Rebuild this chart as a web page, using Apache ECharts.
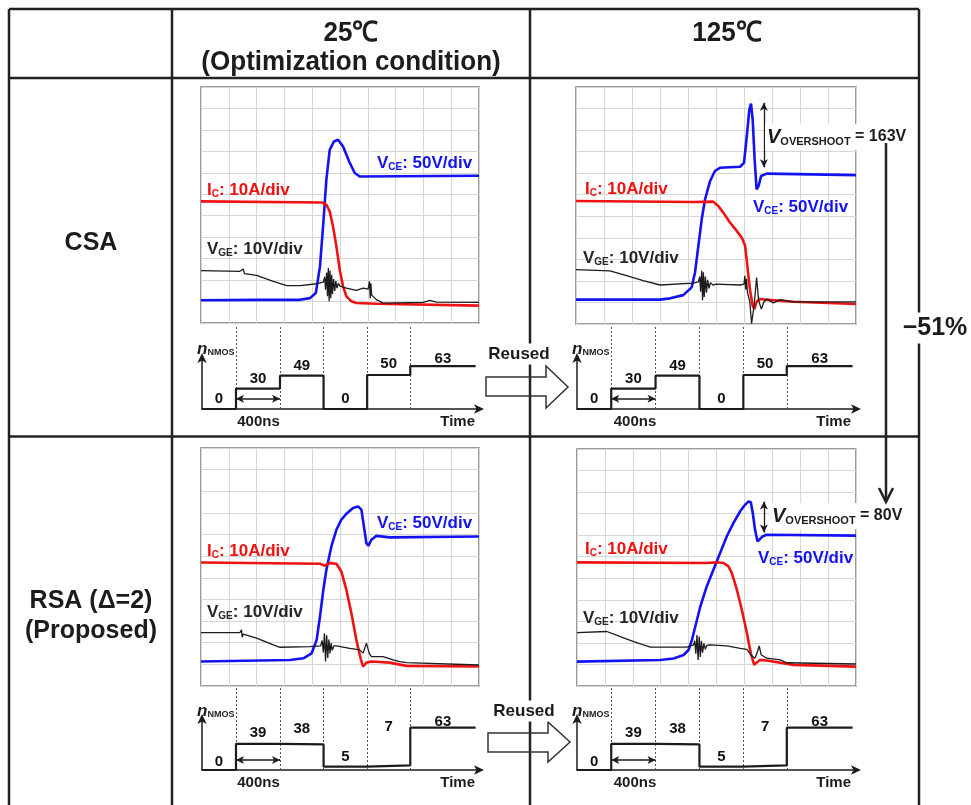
<!DOCTYPE html>
<html>
<head>
<meta charset="utf-8">
<script src="https://cdn.jsdelivr.net/npm/echarts@6.0.0/dist/echarts.min.js"></script>
<style>
  html, body { margin: 0; padding: 0; background: #fff; }
  #main { width: 971px; height: 805px; }
</style>
</head>
<body>
<div id="main"></div>
<script>
// scope traces: x in divisions (0..10), y in divisions (0..11)
// CSA, 25 C
var vceCsa25 = [[0,1.06],[2.0,1.08],[3.56,1.08],[3.92,1.16],[4.13,1.40],[4.28,2.64],[4.40,4.66],[4.51,6.68],[4.63,8.07],[4.78,8.46],[4.93,8.54],[5.11,8.23],[5.33,7.53],[5.53,6.99],[5.71,6.83],[10,6.86]];
var icCsa25 = [[0,5.67],[4.34,5.62],[4.51,5.51],[4.63,5.20],[4.75,4.50],[4.87,3.57],[4.99,2.48],[5.11,1.71],[5.23,1.24],[5.41,1.01],[5.59,0.93],[6.31,0.90],[10,0.81]];
var vgeCsa25 = [[0,2.44],[1.40,2.41],[1.52,2.52],[1.56,2.30],[2.0,2.22],[2.60,1.94],[3.08,1.74],[3.56,1.74],[4.16,1.83],[4.40,1.90],[4.45,2.15],[4.48,1.55],[4.52,2.35],[4.55,1.25],[4.58,2.56],[4.61,1.02],[4.64,2.45],[4.67,1.15],[4.70,2.25],[4.73,1.35],[4.77,2.05],[4.81,1.50],[4.85,1.95],[4.89,1.62],[4.94,1.85],[5.0,1.72],[5.23,1.63],[5.59,1.52],[5.83,1.63],[6.01,1.58],[6.06,1.94],[6.09,1.15],[6.11,1.85],[6.14,1.30],[6.31,1.09],[6.55,0.93],[7.99,0.96],[8.23,1.06],[8.47,0.97],[10,0.96]];
// CSA, 125 C
var vceCsa125 = [[0,1.13],[3.0,1.13],[3.36,1.19],[3.83,1.34],[4.13,1.70],[4.25,2.39],[4.37,3.63],[4.49,4.86],[4.61,5.79],[4.79,6.64],[4.96,7.10],[5.14,7.25],[5.86,7.30],[6.0,7.48],[6.10,8.72],[6.19,9.95],[6.25,10.23],[6.31,9.49],[6.38,7.64],[6.45,6.25],[6.52,6.40],[6.61,6.87],[6.81,6.98],[10,6.91]];
var icCsa125 = [[0,5.71],[4.19,5.66],[4.90,5.68],[5.08,5.48],[5.26,5.17],[5.50,4.71],[5.74,4.32],[5.92,4.01],[6.04,3.63],[6.12,2.70],[6.21,1.62],[6.31,0.85],[6.37,0.69],[6.45,1.03],[6.57,1.16],[6.75,1.13],[7.76,1.03],[10,0.93]];
var vgeCsa125 = [[0,2.52],[1.21,2.47],[1.81,2.24],[2.40,2.01],[3.0,1.81],[4.19,1.90],[4.37,1.95],[4.42,2.20],[4.45,1.50],[4.49,2.47],[4.52,1.10],[4.55,2.40],[4.58,1.25],[4.62,2.20],[4.66,1.45],[4.70,2.05],[4.75,1.65],[4.80,1.92],[4.90,1.80],[5.0,1.85],[5.86,1.81],[6.0,1.85],[6.03,2.24],[6.06,1.60],[6.09,2.10],[6.12,1.50],[6.21,1.00],[6.27,0.02],[6.36,0.85],[6.45,2.16],[6.52,1.10],[6.62,0.69],[6.70,1.00],[6.81,1.16],[7.05,0.98],[7.29,1.13],[7.76,1.03],[10,1.03]];
// RSA (delta=2), 25 C
var vceRsa25 = [[0,1.13],[3.20,1.20],[3.68,1.28],[3.98,1.51],[4.16,2.13],[4.28,3.21],[4.40,4.44],[4.51,5.37],[4.69,6.45],[4.87,7.22],[5.05,7.69],[5.23,7.96],[5.47,8.23],[5.65,8.30],[5.77,8.15],[5.86,7.38],[5.95,6.60],[6.02,6.48],[6.13,6.76],[6.31,6.94],[6.79,6.87],[10,6.91]];
var icRsa25 = [[0,5.71],[4.28,5.65],[4.46,5.56],[4.63,5.68],[4.87,5.65],[5.05,5.29],[5.23,4.44],[5.41,3.36],[5.59,2.13],[5.74,1.28],[5.83,0.90],[5.95,1.08],[6.13,1.13],[6.79,1.08],[7.39,0.93],[10,0.90]];
var vgeRsa25 = [[0,2.47],[1.40,2.47],[1.46,2.60],[1.48,2.25],[1.52,2.40],[2.0,2.21],[2.60,1.90],[2.84,1.79],[3.92,1.82],[4.30,1.85],[4.36,2.10],[4.40,1.55],[4.44,2.44],[4.48,1.13],[4.52,2.35],[4.56,1.30],[4.60,2.15],[4.64,1.50],[4.68,1.98],[4.72,1.65],[4.78,1.85],[4.87,1.85],[5.35,1.74],[5.71,1.67],[5.83,1.52],[5.95,1.98],[6.05,1.52],[6.13,1.36],[6.55,1.36],[6.91,1.21],[7.15,1.13],[7.39,1.08],[10,0.97]];
// RSA (delta=2), 125 C
var vceRsa125 = [[0,1.13],[2.98,1.21],[3.46,1.28],[3.82,1.44],[4.0,1.67],[4.12,2.14],[4.24,2.76],[4.42,3.69],[4.65,4.62],[4.89,5.40],[5.13,6.17],[5.37,6.95],[5.61,7.57],[5.85,8.11],[6.03,8.42],[6.15,8.57],[6.23,8.53],[6.30,8.03],[6.38,7.26],[6.47,6.71],[6.54,6.64],[6.66,6.95],[6.80,7.02],[10,6.98]];
var icRsa125 = [[0,5.74],[4.65,5.71],[5.01,5.74],[5.25,5.71],[5.43,5.55],[5.55,5.24],[5.73,4.47],[5.91,3.53],[6.09,2.45],[6.23,1.52],[6.35,0.98],[6.44,1.09],[6.56,1.21],[6.80,1.18],[7.76,0.98],[10,0.90]];
var vgeRsa125 = [[0,2.48],[1.07,2.53],[1.55,2.29],[2.03,2.06],[2.63,1.80],[3.94,1.80],[4.18,1.91],[4.22,2.10],[4.26,1.50],[4.30,2.37],[4.34,1.21],[4.38,2.30],[4.42,1.35],[4.46,2.10],[4.50,1.55],[4.55,1.98],[4.60,1.70],[4.65,1.88],[4.77,1.91],[5.37,1.86],[5.85,1.75],[6.09,1.70],[6.26,1.40],[6.38,1.29],[6.47,1.60],[6.53,1.86],[6.60,1.45],[6.80,1.29],[7.28,1.21],[7.52,1.08],[10,1.02]];

// n_NMOS step sequences, time in units of 400 ns
var stepTimes = [0, 0.78, 1.79, 2.79, 3.79, 4.78, 6.28];
var nCsa = [0, 30, 49, 0, 50, 63];
var nRsa = [0, 39, 38, 5, 7, 63];

var overshootCsa = '163V';
var overshootRsa = '80V';
var reduction = '\u221251%';

// layout (pixels) -----------------------------------------------------
var F = '"Liberation Sans", Arial, Helvetica, sans-serif';
var BLUE = '#1212f2', RED = '#ee1212', INK = '#1c1c1c';
var labelLift = {
  csa: [2.5, 2, 2.5, 2.5, 3.5, -0.5],
  rsa: [0.5, 3.5, 8.5, 2.5, 30.5, -1.5]
};
var panels = [
  {scope: [201, 87, 278, 236], step: [202, 326, 278, 83], arrowTop: 357,
   vce: vceCsa25, ic: icCsa25, vge: vgeCsa25, n: nCsa, lift: labelLift.csa},
  {scope: [576, 87, 280, 237], step: [577, 326, 280, 83], arrowTop: 357,
   vce: vceCsa125, ic: icCsa125, vge: vgeCsa125, n: nCsa, lift: labelLift.csa,
   over: {x: 6.71, top: 10.27, bottom: 7.27}},
  {scope: [201, 448, 278, 238], step: [202, 688, 278, 82], arrowTop: 718,
   vce: vceRsa25, ic: icRsa25, vge: vgeRsa25, n: nRsa, lift: labelLift.rsa},
  {scope: [577, 449, 279, 237], step: [577, 688, 280, 82], arrowTop: 718,
   vce: vceRsa125, ic: icRsa125, vge: vgeRsa125, n: nRsa, lift: labelLift.rsa,
   over: {x: 6.70, top: 8.56, bottom: 7.12}}
];
var STEP_YMAX = 122, STEP_XMAX = 6.38, ARROW_Y = 15;

var grids = [], xAxes = [], yAxes = [], series = [];
var hide = {show: false};

panels.forEach(function (p, i) {
  grids[i] = {left: p.scope[0], top: p.scope[1], width: p.scope[2], height: p.scope[3],
    show: true, borderColor: '#7a7a7a', borderWidth: 1.5, backgroundColor: '#fff'};
  xAxes[i] = {type: 'value', gridIndex: i, min: 0, max: 10, interval: 1,
    axisLine: hide, axisTick: hide, axisLabel: hide,
    splitLine: {lineStyle: {color: '#d6d6d6', width: 1}}};
  yAxes[i] = {type: 'value', gridIndex: i, min: 0, max: 11, interval: 1,
    axisLine: hide, axisTick: hide, axisLabel: hide,
    splitLine: {lineStyle: {color: '#d6d6d6', width: 1}}};

  var s = 4 + i;
  grids[s] = {left: p.step[0], top: p.step[1], width: p.step[2], height: p.step[3]};
  xAxes[s] = {type: 'value', gridIndex: s, min: 0, max: STEP_XMAX,
    axisLine: {show: true, symbol: ['none', 'arrow'], symbolSize: [7, 10], symbolOffset: [0, 4],
      lineStyle: {color: INK, width: 1.5}},
    axisTick: hide, axisLabel: hide, splitLine: hide};
  yAxes[s] = {type: 'value', gridIndex: s, min: 0, max: STEP_YMAX,
    axisLine: hide, axisTick: hide, axisLabel: hide, splitLine: hide};

  var a = 8 + i;
  grids[a] = {left: p.step[0], top: p.arrowTop, width: 20, height: p.step[1] + p.step[3] - p.arrowTop};
  xAxes[a] = {type: 'value', gridIndex: a, min: 0, max: 1, show: false};
  yAxes[a] = {type: 'value', gridIndex: a, min: 0, max: 1,
    axisLine: {show: true, symbol: ['none', 'arrow'], symbolSize: [7, 10], symbolOffset: [0, 4],
      lineStyle: {color: INK, width: 1.5}},
    axisTick: hide, axisLabel: hide, splitLine: hide};

  var vceSeries = {type: 'line', xAxisIndex: i, yAxisIndex: i, data: p.vce, showSymbol: false,
    lineStyle: {color: BLUE, width: 2.6}, z: 3};
  if (p.over) {
    vceSeries.markLine = {silent: true, symbol: ['arrow', 'arrow'], symbolSize: [6, 8],
      label: {show: false}, lineStyle: {color: INK, width: 1.3, type: 'solid'},
      data: [[{coord: [p.over.x, p.over.top]}, {coord: [p.over.x, p.over.bottom]}]]};
  }
  series.push(vceSeries);
  series.push({type: 'line', xAxisIndex: i, yAxisIndex: i, data: p.ic, showSymbol: false,
    lineStyle: {color: RED, width: 2.6}, z: 4});
  series.push({type: 'line', xAxisIndex: i, yAxisIndex: i, data: p.vge, showSymbol: false,
    lineStyle: {color: INK, width: 1.3}, z: 5});

  var steps = p.n.map(function (v, k) { return [stepTimes[k], v]; });
  steps.push([stepTimes[stepTimes.length - 1], p.n[p.n.length - 1]]);
  series.push({type: 'line', xAxisIndex: s, yAxisIndex: s, data: steps, step: 'end',
    showSymbol: false, lineStyle: {color: INK, width: 2.2}, z: 5,
    markLine: {silent: true, symbol: ['none', 'none'], label: {show: false},
      lineStyle: {color: '#555', width: 1, type: [2, 2]},
      data: stepTimes.slice(1, 6).map(function (t) { return {xAxis: t}; })}});

  var marks = p.n.map(function (v, k) {
    return {value: [(stepTimes[k] + stepTimes[k + 1]) / 2, v],
      label: {offset: [0, -p.lift[k]]}};
  });
  series.push({type: 'scatter', xAxisIndex: s, yAxisIndex: s, data: marks, symbolSize: 0, z: 6,
    itemStyle: {opacity: 1},
    label: {show: true, position: 'top', distance: 0, formatter: function (d) { return d.value[1]; },
      fontFamily: F, fontWeight: 'bold', fontSize: 15, color: '#111', opacity: 1},
    markLine: {silent: true, symbol: ['arrow', 'arrow'], symbolSize: [6, 8], label: {show: false},
      lineStyle: {color: INK, width: 1.5, type: 'solid'},
      data: [[{coord: [stepTimes[1], ARROW_Y]}, {coord: [stepTimes[2], ARROW_Y]}]]}});
});

// graphic helpers
function line(x1, y1, x2, y2, w, z) {
  return {type: 'line', z: z || 10, shape: {x1: x1, y1: y1, x2: x2, y2: y2},
    style: {stroke: '#222', lineWidth: w || 2.5}};
}
function text(x, y, str, size, align, extra) {
  var st = {text: str, fontFamily: F, fontWeight: 'bold', fontSize: size, fill: INK,
    textAlign: align || 'center', textVerticalAlign: 'middle'};
  for (var k in extra || {}) st[k] = extra[k];
  return {type: 'text', x: x, y: y, z: 60, style: st};
}
function header(x, y, str) {
  // condensed bold heading
  var t = text(x, y, str, 28);
  t.scaleX = 0.93;
  return t;
}
function sig(x, y, color, main, sub, rest) {
  return {type: 'text', x: x, y: y, z: 60, style: {
    text: '{m|' + main + '}{s|' + sub + '}{m|' + rest + '}',
    textAlign: 'left', textVerticalAlign: 'middle',
    rich: {
      m: {fontFamily: F, fontWeight: 'bold', fontSize: 17, fill: color, lineHeight: 18},
      s: {fontFamily: F, fontWeight: 'bold', fontSize: 10, fill: color, lineHeight: 7, verticalAlign: 'bottom'}
    }}};
}
function nLabel(x, y) {
  return {type: 'text', x: x, y: y, z: 60, style: {
    text: '{n|n}{s|NMOS}', textAlign: 'left', textVerticalAlign: 'middle',
    rich: {
      n: {fontFamily: F, fontWeight: 'bold', fontStyle: 'italic', fontSize: 17, fill: INK, lineHeight: 16},
      s: {fontFamily: F, fontWeight: 'bold', fontSize: 9, fill: INK, lineHeight: 9, verticalAlign: 'bottom'}
    }}};
}
function overLabel(x, y, val) {
  return {type: 'text', x: x, y: y, z: 100, style: {
    text: '{v|V}{s|OVERSHOOT}{m| = ' + val + '}', textAlign: 'left', textVerticalAlign: 'middle',
    backgroundColor: '#fff', padding: [3, 2, 3, 2],
    rich: {
      v: {fontFamily: F, fontWeight: 'bold', fontStyle: 'italic', fontSize: 20, fill: INK, lineHeight: 20},
      s: {fontFamily: F, fontWeight: 'bold', fontSize: 11, fill: INK, lineHeight: 8, verticalAlign: 'bottom'},
      m: {fontFamily: F, fontWeight: 'bold', fontSize: 16, fill: INK, lineHeight: 20}
    }}};
}
function blockArrow(pts) {
  return {type: 'polygon', z: 20, shape: {points: pts},
    style: {fill: 'none', stroke: '#333', lineWidth: 1.5}};
}

var graphics = [
  line(9, 9, 919, 9), line(9, 78, 919, 78), line(9, 436.5, 919, 436.5),
  line(9, 9, 9, 810), line(172, 9, 172, 810), line(530, 9, 530, 810), line(919, 9, 919, 810),
  header(351, 33, '25\u2103'), header(351, 62, '(Optimization condition)'),
  header(727, 33, '125\u2103'),
  text(91, 243, 'CSA', 25), text(91, 601, 'RSA (\u0394=2)', 25), text(91, 631, '(Proposed)', 25),

  sig(377, 163, BLUE, 'V', 'CE', ': 50V/div'), sig(207, 190, RED, 'I', 'C', ': 10A/div'),
  sig(207, 249, '#262626', 'V', 'GE', ': 10V/div'),
  sig(585, 189, RED, 'I', 'C', ': 10A/div'), sig(753, 207, BLUE, 'V', 'CE', ': 50V/div'),
  sig(583, 258, '#262626', 'V', 'GE', ': 10V/div'),
  sig(377, 523, BLUE, 'V', 'CE', ': 50V/div'), sig(207, 551, RED, 'I', 'C', ': 10A/div'),
  sig(207, 612, '#262626', 'V', 'GE', ': 10V/div'),
  sig(585, 549, RED, 'I', 'C', ': 10A/div'), sig(758, 558, BLUE, 'V', 'CE', ': 50V/div'),
  sig(583, 618, '#262626', 'V', 'GE', ': 10V/div'),

  nLabel(197, 349), nLabel(572, 349), nLabel(197, 711), nLabel(572, 711),
  text(258.5, 422, '400ns', 15), text(635, 422, '400ns', 15),
  text(258.5, 783, '400ns', 15), text(635, 783, '400ns', 15),
  text(475, 422, 'Time', 15, 'right'), text(851, 422, 'Time', 15, 'right'),
  text(475, 783, 'Time', 15, 'right'), text(851, 783, 'Time', 15, 'right'),

  text(519, 354, 'Reused', 17, 'center', {backgroundColor: '#fff', padding: [2, 1, 2, 1]}),
  text(524, 711, 'Reused', 17, 'center', {backgroundColor: '#fff', padding: [2, 1, 2, 1]}),
  blockArrow([[486, 377], [546, 377], [546, 366], [568, 387], [546, 408], [546, 396], [486, 396]]),
  blockArrow([[488, 733], [548, 733], [548, 722], [570, 742], [548, 762], [548, 752], [488, 752]]),

  overLabel(765, 137, overshootCsa), overLabel(770, 516, overshootRsa),

  line(886, 143, 886, 502, 2.5, 110),
  {type: 'polyline', z: 110, shape: {points: [[879, 488], [886, 502], [893, 488]]},
    style: {stroke: '#222', lineWidth: 2.5, fill: 'none'}},
  text(935, 328, reduction, 25, 'center', {backgroundColor: '#fff', padding: [3, 1, 3, 1]})
];

var chart = echarts.init(document.getElementById('main'));
chart.setOption({
  animation: false,
  backgroundColor: '#fff',
  grid: grids,
  xAxis: xAxes,
  yAxis: yAxes,
  series: series,
  graphic: graphics
});
</script>
</body>
</html>
